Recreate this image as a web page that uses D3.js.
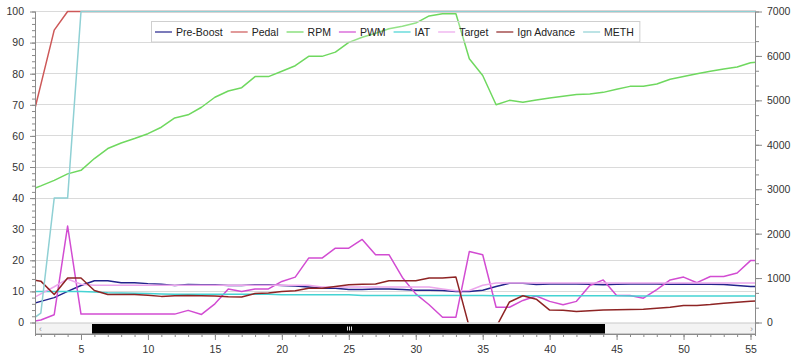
<!DOCTYPE html>
<html><head><meta charset="utf-8">
<script src="https://cdn.jsdelivr.net/npm/d3@7/dist/d3.min.js"></script>
<style>
body{margin:0;background:#fff;}
svg{display:block;font-family:"Liberation Sans",Arial,sans-serif;}
</style>
</head><body>
<svg id="chart" width="798" height="363"></svg>
<script>
// ---------- data ----------
const samples = d3.range(1, 57);
const preBoost = [5.6,6.8,8.0,10.0,11.9,13.4,13.4,12.8,12.8,12.5, 12.3,11.9,12.2,12.1,12.1,11.9,11.9,12.1,12.1,11.9, 11.7,11.4,11.0,11.0,10.6,10.6,10.8,10.8,10.6,10.4, 10.4,10.3,10.0,10.0,10.4,11.6,12.6,12.6,12.2,12.4, 12.4,12.4,12.3,12.1,12.3,12.4,12.4,12.4,12.3,12.4, 12.3,12.3,12.2,11.9,11.6,11.6];
const pedal = [59,76.5,94,100,100,100,100,100,100,100, 100,100,100,100,100,100,100,100,100,100, 100,100,100,100,100,100,100,100,100,100, 100,100,100,100,100,100,100,100,100,100, 100,100,100,100,100,100,100,100,100,100, 100,100,100,100,100,100];
const rpm = [2960,3075,3200,3345,3425,3690,3915,4040,4140,4250, 4395,4605,4675,4845,5070,5210,5285,5535,5535,5655, 5780,5990,5990,6085,6305,6420,6510,6610,6670,6740, 6900,6950,6950,5935,5560,4900,5000,4955,5010,5055, 5090,5130,5145,5180,5250,5315,5315,5370,5475,5535, 5600,5655,5705,5750,5845,5880];
const pwm = [0,0.8,2.5,31,2.7,2.7,2.7,2.7,2.7,2.7, 2.7,2.7,3.9,2.6,6.0,10.8,10.0,10.8,10.8,13.2, 14.6,20.7,20.7,23.9,23.9,26.7,21.8,21.8,14.5,9.2, 5.7,1.7,1.7,22.8,21.8,4.9,4.9,7.1,8.5,6.8, 5.7,6.8,11.9,13.7,8.7,8.7,7.8,10.6,13.7,14.6, 12.8,14.8,14.8,15.9,19.9,19.9];
const iat = [10,10,10,10,10,9.8,9.6,9.5,9.4,9.3, 9.2,9.1,9.1,9.1,9.1,9.1,9.1,9.1,9.1,8.9, 8.9,8.9,8.9,8.9,8.9,8.7,8.7,8.7,8.7,8.7, 8.7,8.7,8.7,8.7,8.7,8.6,8.6,8.6,8.6,8.6, 8.6,8.6,8.6,8.6,8.6,8.5,8.5,8.5,8.5,8.5, 8.5,8.5,8.5,8.5,8.5,8.5];
const target = [6.9,9.2,11.5,14.0,12.3,12,12,12,12,12, 12,12,12,12,12,12,12,12,12,12, 12,12,11.4,11.4,11.4,11.4,11.4,11.4,11.4,11.4, 11.4,10.8,10.2,10.3,12.0,12.7,12.7,12.7,12.7,12.7, 12.7,12.7,12.7,12.7,12.7,12.7,12.7,12.7,12.7,12.7, 12.7,12.7,12.7,12.7,12.7,12.7];
const ignAdvance = [14,13.3,9,14.3,14.3,10.3,9,9,9,8.8, 8.4,8.6,8.7,8.6,8.5,8.3,8.2,9.3,9.5,10, 10.2,11,11,11.6,12.1,12.3,12.4,13.4,13.4,13.4, 14.3,14.3,14.6,-1.5,-1.5,-1.5,6.6,8.6,7.5,4, 3.9,3.5,3.8,4,4.1,4.2,4.3,4.6,4.9,5.5, 5.5,5.8,6.2,6.5,6.8,7];
const meth = [0,3,40,40,100,100,100,100,100,100, 100,100,100,100,100,100,100,100,100,100, 100,100,100,100,100,100,100,100,100,100, 100,100,100,100,100,100,100,100,100,100, 100,100,100,100,100,100,100,100,100,100, 100,100,100,100,100,100];

const seriesNames = ["Pre-Boost","Pedal","RPM","PWM","IAT","Target","Ign Advance","METH"];
const seriesColors = ["#23238c","#cd5858","#6fd85f","#d24cd2","#45d3d3","#eca6ec","#8e2424","#8fd0d4"];
const seriesAxis = ["L","L","R","L","L","L","L","L"];
const seriesValues = [preBoost, pedal, rpm, pwm, iat, target, ignAdvance, meth];

const xTicks = [5,10,15,20,25,30,35,40,45,50,55];
const leftTicks = [0,10,20,30,40,50,60,70,80,90,100];
const rightTicks = [0,1000,2000,3000,4000,5000,6000,7000];

// ---------- layout ----------
const svg = d3.select("#chart");
const L = 35, R = 756, T = 11.5, B = 322.5, axisY = 334;

const x = d3.scaleLinear().domain([1.565, 55.41]).range([L, R]);
const yL = d3.scaleLinear().domain([0, 100]).range([B, T]);
const yR = d3.scaleLinear().domain([0, 7000]).range([B, T]);

const axisColor = "#8a8a8a", labelColor = "#333";

// gridlines
svg.append("g").selectAll("line").data(leftTicks.filter(d => d > 0)).join("line")
  .attr("x1", L).attr("x2", R)
  .attr("y1", d => Math.floor(yL(d)) + 0.5).attr("y2", d => Math.floor(yL(d)) + 0.5)
  .attr("stroke", "#dadada").attr("stroke-width", 1);

// series lines
svg.append("defs").append("clipPath").attr("id", "plotClip")
  .append("rect").attr("x", L).attr("y", 4).attr("width", R - L).attr("height", B - 4);

const lines = svg.append("g").attr("clip-path", "url(#plotClip)");
seriesValues.forEach((vals, i) => {
  const ys = seriesAxis[i] === "R" ? yR : yL;
  const gen = d3.line().x((d, j) => x(samples[j])).y(d => ys(d));
  lines.append("path").datum(vals)
    .attr("d", gen)
    .attr("fill", "none")
    .attr("stroke", seriesColors[i])
    .attr("stroke-width", 1.5)
    .attr("stroke-linejoin", "round");
});

// scrollbar
svg.append("rect").attr("x", L + 0.5).attr("y", B + 0.5).attr("width", R - L - 1).attr("height", axisY - B - 1)
  .attr("fill", "#f3f3f3").attr("stroke", "#c9c9c9");
svg.append("rect").attr("x", 92).attr("y", 324).attr("width", 605 - 92).attr("height", 9.5).attr("fill", "#000");
[-2, 0, 2].forEach(o => svg.append("line").attr("x1", 349 + o + 0.5).attr("x2", 349 + o + 0.5)
  .attr("y1", 326.5).attr("y2", 330.5).attr("stroke", "#ddd").attr("stroke-width", 1));
svg.append("text").attr("x", 39).attr("y", 331.5).attr("font-size", 9).attr("fill", "#999").text("‹");
svg.append("text").attr("x", 750).attr("y", 331.5).attr("font-size", 9).attr("fill", "#999").text("›");

// axes
function styleAxis(g) {
  g.select(".domain").remove();
  g.selectAll(".tick line").attr("stroke", axisColor);
  g.selectAll(".tick text").attr("fill", labelColor).attr("font-size", "10.5px")
    .attr("font-family", '"Liberation Sans",Arial,sans-serif');
}

// left axis
svg.append("g").attr("transform", `translate(${L},0)`)
  .call(d3.axisLeft(yL).tickValues(d3.range(0, 101, 2)).tickSize(3).tickFormat(""))
  .call(styleAxis);
svg.append("g").attr("transform", `translate(${L},0)`)
  .call(d3.axisLeft(yL).tickValues(leftTicks).tickSize(5).tickPadding(6).tickFormat(d3.format("d")))
  .call(styleAxis);
svg.append("line").attr("x1", L + 0.5).attr("x2", L + 0.5).attr("y1", T).attr("y2", axisY + 2)
  .attr("stroke", axisColor);

// right axis
svg.append("g").attr("transform", `translate(${R},0)`)
  .call(d3.axisRight(yR).tickValues(d3.range(0, 7001, 1000 / 3)).tickSize(3).tickFormat(""))
  .call(styleAxis);
svg.append("g").attr("transform", `translate(${R},0)`)
  .call(d3.axisRight(yR).tickValues(rightTicks).tickSize(6).tickPadding(5).tickFormat(d3.format("d")))
  .call(styleAxis);
svg.append("line").attr("x1", R - 0.5).attr("x2", R - 0.5).attr("y1", T).attr("y2", axisY + 2)
  .attr("stroke", axisColor);

// bottom axis
svg.append("g").attr("transform", `translate(0,${axisY})`)
  .call(d3.axisBottom(x).tickValues(d3.range(2, 56, 1)).tickSize(3).tickFormat(""))
  .call(styleAxis);
svg.append("g").attr("transform", `translate(0,${axisY})`)
  .call(d3.axisBottom(x).tickValues(xTicks).tickSize(6).tickPadding(6).tickFormat(d3.format("d")))
  .call(styleAxis);
svg.append("line").attr("x1", L).attr("x2", R).attr("y1", axisY + 0.5).attr("y2", axisY + 0.5)
  .attr("stroke", axisColor);

// legend (transparent box, lines show through as in the reference)
const lg = svg.append("g");
const box = lg.append("rect").attr("x", 151.5).attr("y", 21.5).attr("height", 20.5)
  .attr("fill", "rgba(255,255,255,0.25)").attr("stroke", "#cfcfcf");
let cx = 155;
seriesNames.forEach((name, i) => {
  const g = lg.append("g");
  g.append("line").attr("x1", cx).attr("x2", cx + 17).attr("y1", 32).attr("y2", 32)
    .attr("stroke", seriesColors[i]).attr("stroke-width", 1.2);
  const t = g.append("text").attr("x", cx + 21).attr("y", 35.8).attr("font-size", "10.5px")
    .attr("fill", "#222").text(name);
  const w = t.node().getComputedTextLength();
  cx += 21 + w + 8;
});
box.attr("width", cx - 8 + 6 - 151.5);
</script>
</body></html>
